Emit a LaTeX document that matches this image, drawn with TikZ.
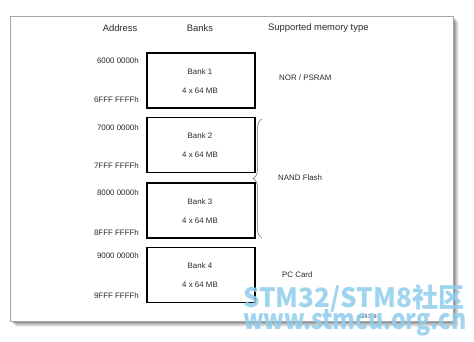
\documentclass[tikz,border=0pt]{standalone}
\usepackage{fontspec}
\setmainfont{Liberation Sans}
\newfontfamily\cjk{Noto Sans CJK SC}
\usetikzlibrary{decorations.pathreplacing}
\definecolor{txt}{HTML}{2A2A2A}
\definecolor{wm}{HTML}{8FCDEC}
\begin{document}
\begin{tikzpicture}[x=1pt,y=-1pt,
  bankbox/.style={draw=black,line width=1.3pt,minimum width=108pt,minimum height=55pt,inner sep=0pt},
  hdr/.style={font=\fontsize{9.4}{11}\selectfont,text=txt,inner sep=0pt},
  lbl/.style={font=\fontsize{7.9}{9}\selectfont,text=txt,inner sep=0pt},
  addr/.style={lbl,anchor=east}]
\useasboundingbox (0,0) rectangle (474,342);
% shadow
\foreach \o/\a in {6/0.06,5/0.08,4/0.1,3/0.12,2/0.15}{
  \fill[black,opacity=\a] (10+\o,16+\o) rectangle (453+\o,321+\o);
}
\fill[white] (10,16) rectangle (453,321);
\draw[gray!70,line width=0.6pt] (10,16) rectangle (453,321);
% headers
\node[hdr] (hA) at (120,28) {Address};
\node[hdr] (hB) at (200,28) {Banks};
\node[hdr,anchor=west] (hC) at (268,28) {Supported memory type};
% banks
\foreach \i/\y in {1/80.5,2/145,3/210.5,4/275}{
  \node[bankbox] (b\i) at (201,\y) {};
  \node[lbl] (bt\i) at (200,\y-9) {Bank \i};
  \node[lbl] (bs\i) at (200,\y+10) {4 x 64 MB};
}
% addresses
\node[addr] (a1s) at (139,61) {6000 0000h};
\node[addr] (a1e) at (139,100) {6FFF FFFFh};
\node[addr] (a2s) at (139,128) {7000 0000h};
\node[addr] (a2e) at (139,166) {7FFF FFFFh};
\node[addr] (a3s) at (139,193) {8000 0000h};
\node[addr] (a3e) at (139,233) {8FFF FFFFh};
\node[addr] (a4s) at (139,256) {9000 0000h};
\node[addr] (a4e) at (139,296) {9FFF FFFFh};
% memory types
\node[lbl,anchor=west] (m1) at (279,78) {NOR / PSRAM};
\coordinate (brT) at (262,119);
\coordinate (brB) at (262,238);
\draw[gray!80!black,line width=0.5pt,decorate,decoration={brace,amplitude=9pt,mirror}] (brT) -- (brB);
\node[lbl,anchor=west] (m2) at (278,178) {NAND Flash};
\node[lbl,anchor=west] (m3) at (282,275) {PC Card};
\node[font=\fontsize{5.5}{6}\selectfont,text=txt,inner sep=0pt] (id) at (367,317) {ai14719};
% watermark
\node[text=wm,opacity=0.85,inner sep=0pt,anchor=west] (wm1) at (243,298) {\resizebox{221pt}{23pt}{\cjk\bfseries STM32/STM8社区}};
\node[text=wm,opacity=0.85,inner sep=0pt,anchor=west] (wm2) at (243,323) {\resizebox{223pt}{20pt}{\cjk\bfseries www.stmcu.org.cn}};
\end{tikzpicture}
\end{document}
